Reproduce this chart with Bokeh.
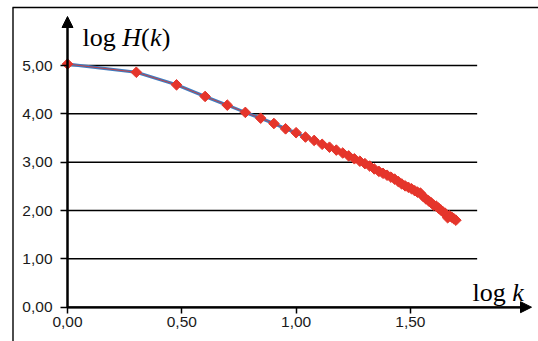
import math
from bokeh.plotting import figure
from bokeh.models import (FixedTicker, CustomJSTickFormatter, Arrow,
                          NormalHead, Label, Range1d)
from bokeh.embed import file_html
from bokeh.resources import INLINE

# ---- data ----
log_k = [0.000, 0.301, 0.477, 0.602, 0.699, 0.778, 0.845, 0.903, 0.954, 1.000,
         1.041, 1.079, 1.114, 1.146, 1.176, 1.204, 1.230, 1.255, 1.279, 1.301,
         1.322, 1.342, 1.362, 1.380, 1.398, 1.415, 1.431, 1.447, 1.462, 1.477,
         1.491, 1.505, 1.519, 1.531, 1.544, 1.556, 1.568, 1.580, 1.591, 1.602,
         1.613, 1.623, 1.633, 1.643, 1.653, 1.663, 1.672, 1.681, 1.690, 1.699]
log_H = [5.03, 4.86, 4.60, 4.36, 4.18, 4.03, 3.91, 3.80, 3.69, 3.61,
         3.52, 3.45, 3.37, 3.31, 3.25, 3.19, 3.13, 3.07, 3.02, 2.97,
         2.92, 2.86, 2.81, 2.77, 2.73, 2.69, 2.65, 2.60, 2.55, 2.51,
         2.48, 2.45, 2.41, 2.38, 2.36, 2.29, 2.24, 2.20, 2.16, 2.11,
         2.09, 2.05, 2.01, 1.97, 1.94, 1.85, 1.89, 1.86, 1.83, 1.80]
x_ticks = [0.0, 0.5, 1.0, 1.5]
y_ticks = [0, 1, 2, 3, 4, 5]
grid_levels = [1, 2, 3, 4, 5]
grid_end = 1.792

# ---- geometry (canvas pixels) ----
W, H = 538, 341
X0_PX, Y0_PX = 67.0, 306.7     # canvas position of data origin
SX, SY = 228.6, 48.34          # px per data unit


def dx(px):
    return (px - X0_PX) / SX


def dy(py):
    return (Y0_PX - py) / SY


p = figure(width=W, height=H, title=None,
           x_range=Range1d(dx(0), dx(W)), y_range=Range1d(dy(H), dy(0)),
           output_backend="svg", toolbar_location=None,
           min_border=0, min_border_left=0, min_border_right=0,
           min_border_top=0, min_border_bottom=0)
p.outline_line_color = None
p.background_fill_color = "white"
p.border_fill_color = "white"
p.xgrid.visible = False
p.ygrid.visible = False

fmt = CustomJSTickFormatter(code="return tick.toFixed(2).replace('.', ',');")

xa = p.xaxis[0]
xa.fixed_location = 0
xa.ticker = FixedTicker(ticks=x_ticks)
xa.formatter = fmt
xa.bounds = (0, 2.0)
xa.axis_line_width = 2
xa.axis_line_color = "black"
xa.major_tick_line_width = 1.5
xa.major_tick_line_color = "black"
xa.major_tick_out = 6
xa.major_tick_in = 0
xa.minor_tick_line_color = None
xa.major_label_text_font = "Liberation Sans"
xa.major_label_text_font_size = "15.5px"
xa.major_label_text_color = "#1a1a1a"
xa.major_label_standoff = 4

ya = p.yaxis[0]
ya.fixed_location = 0
ya.ticker = FixedTicker(ticks=y_ticks)
ya.formatter = fmt
ya.bounds = (0, 5.9)
ya.axis_line_width = 2
ya.axis_line_color = "black"
ya.major_tick_line_width = 1.5
ya.major_tick_line_color = "black"
ya.major_tick_out = 7
ya.major_tick_in = 0
ya.minor_tick_line_color = None
ya.major_label_text_font = "Liberation Sans"
ya.major_label_text_font_size = "15.5px"
ya.major_label_text_color = "#1a1a1a"
ya.major_label_standoff = 8

# horizontal gridlines that stop short of the arrow
p.segment(x0=[0] * len(grid_levels), y0=grid_levels,
          x1=[grid_end] * len(grid_levels), y1=grid_levels,
          line_color="black", line_width=1.5)

# outer frame (left and top edges visible)
p.segment(x0=[dx(12.5), dx(12.0)], y0=[dy(7.0), dy(7.0)],
          x1=[dx(12.5), dx(W + 5)], y1=[dy(H + 5), dy(7.0)],
          line_color="black", line_width=1.4)

# axis arrows
p.add_layout(Arrow(end=NormalHead(size=11, fill_color="black", line_color="black"),
                   x_start=0, y_start=0, x_end=dx(531), y_end=0,
                   line_color="black", line_width=2))
p.add_layout(Arrow(end=NormalHead(size=11, fill_color="black", line_color="black"),
                   x_start=0, y_start=0, x_end=0, y_end=dy(16),
                   line_color="black", line_width=2))

# data
p.line(log_k, log_H, line_color="#3F7DC1", line_width=3.2)
p.line(log_k, log_H, line_color="#E0352B", line_width=0.8)
p.scatter(log_k, log_H, marker="square", size=7.5, angle=math.pi / 4,
          fill_color="#E5352B", line_color="#E5352B")

# axis titles (mixed upright / italic pieces)
FS = 26


def put(text, px, py, italic=False):
    p.add_layout(Label(x=dx(px), y=dy(py), text=text,
                       text_font="Liberation Serif", text_font_size=f"{FS}px",
                       text_font_style="italic" if italic else "normal",
                       text_baseline="alphabetic", text_align="left",
                       text_color="black"))


bx, by = 82.0, 36.5
put("log", bx, by)
put("H", bx + 1.528 * FS, by, True)
put("(", bx + 2.25 * FS, by)
put("k", bx + 2.60 * FS, by, True)
put(")", bx + 3.05 * FS, by)

kx, ky = 472.0, 292.0
put("log", kx, ky)
put("k", kx + 1.528 * FS, ky, True)

open("out.html", "w").write(file_html(p, INLINE))
